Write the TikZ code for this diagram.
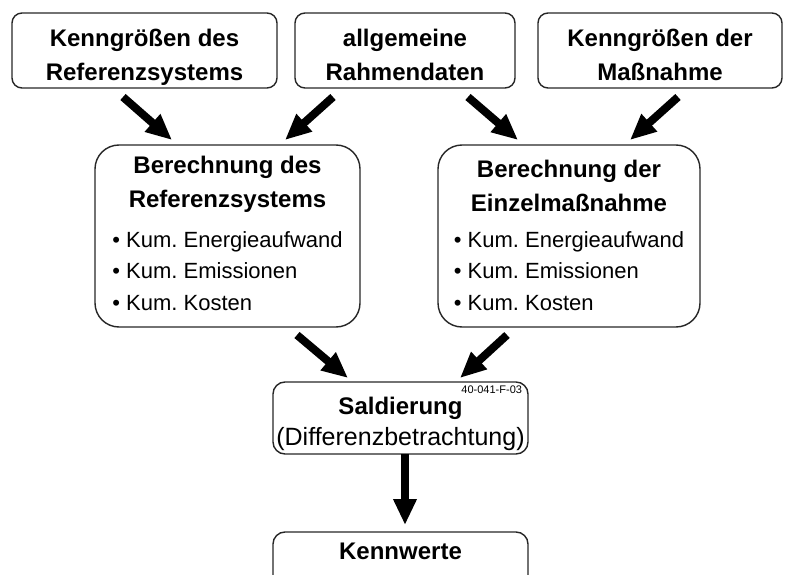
\documentclass[tikz,border=0pt]{standalone}
\usepackage{fontspec}
\setmainfont{Liberation Sans}
\usetikzlibrary{arrows.meta,positioning}
\frenchspacing

\begin{document}
\begin{tikzpicture}[
    x=1pt, y=1pt,
    every node/.style={inner sep=0pt, outer sep=0pt},
    inbox/.style={draw=black!85, line width=1.4pt, rounded corners=10pt, minimum height=75pt},
    intext/.style={align=center, font=\bfseries\fontsize{24}{34}\selectfont},
    calcbox/.style={draw=black!85, line width=1.4pt, rounded corners=24pt, minimum height=182pt},
    calctitle/.style={align=center, font=\bfseries\fontsize{24}{34}\selectfont},
    calclist/.style={font=\fontsize{22}{31.5}\selectfont},
    sumbox/.style={draw=black!85, line width=1.4pt, rounded corners=12pt, minimum width=255pt},
    idlabel/.style={font=\fontsize{11}{12}\selectfont},
    bigarrow/.style={line width=8pt, -{Triangle[length=26pt,width=22pt]}}
]
\useasboundingbox (0,0) rectangle (790,-575);
\clip (0,0) rectangle (790,-575);

% input boxes
\node[inbox, minimum width=265pt] (refin) at (144.5,-50.5) {};
\node[inbox, minimum width=220pt, right=18pt of refin] (frame) {};
\node[inbox, minimum width=244pt, right=23pt of frame] (measin) {};
\node[intext, below=16pt of refin.north] (refintext) {Kenngrößen des\\Referenzsystems};
\node[intext, below=16pt of frame.north] (frametext) {allgemeine\\Rahmendaten};
\node[intext, below=16pt of measin.north] (measintext) {Kenngrößen der\\Maßnahme};

% calculation boxes
\node[calcbox, minimum width=265pt] (refcalc) at (227.5,-236) {};
\node[calctitle, below=11pt of refcalc.north] (refcalctitle) {Berechnung des\\Referenzsystems};
\node[calclist, below=80pt of refcalc.north] (refcalclist) {\begin{tabular}{@{}l@{}}• Kum. Energieaufwand\\• Kum. Emissionen\\• Kum. Kosten\end{tabular}};

\node[calcbox, minimum width=262pt] (meascalc) at (569,-236) {};
\node[calctitle, below=15pt of meascalc.north] (meascalctitle) {Berechnung der\\Einzelmaßnahme};
\node[calclist, below=80pt of meascalc.north] (meascalclist) {\begin{tabular}{@{}l@{}}• Kum. Energieaufwand\\• Kum. Emissionen\\• Kum. Kosten\end{tabular}};

% balance and result
\node[sumbox, minimum height=72pt] (saldo) at (400.5,-418) {};
\node[align=center, font=\fontsize{25}{31}\selectfont, below=15pt of saldo.north] (saldotext) {{\bfseries\fontsize{24}{31}\selectfont Saldierung}\\(Differenzbetrachtung)};
\node[idlabel, anchor=north east] (saldoid) at ([shift={(-6,-4)}]saldo.north east) {40-041-F-03};
\node[sumbox, anchor=north, inner ysep=11pt, text depth=40pt, font=\bfseries\fontsize{24}{30}\selectfont] (result) at (400.5,-532) {Kennwerte};

\draw[bigarrow] ([shift={(-21.5,-9)}]refin.south) -- ([shift={(-55.5,5)}]refcalc.north);
\draw[bigarrow] ([shift={(-72,-9)}]frame.south) -- ([shift={(57.5,5)}]refcalc.north);
\draw[bigarrow] ([shift={(63,-9)}]frame.south) -- ([shift={(-51,5)}]meascalc.north);
\draw[bigarrow] ([shift={(18,-9)}]measin.south) -- ([shift={(61,5)}]meascalc.north);
\draw[bigarrow] ([shift={(69.5,-8)}]refcalc.south) -- ([shift={(-52.5,4)}]saldo.north);
\draw[bigarrow] ([shift={(-62,-8)}]meascalc.south) -- ([shift={(59.5,4)}]saldo.north);
\draw[bigarrow] ([xshift=4.5]saldo.south) -- ([shift={(4.5,7)}]result.north);
\end{tikzpicture}
\end{document}
